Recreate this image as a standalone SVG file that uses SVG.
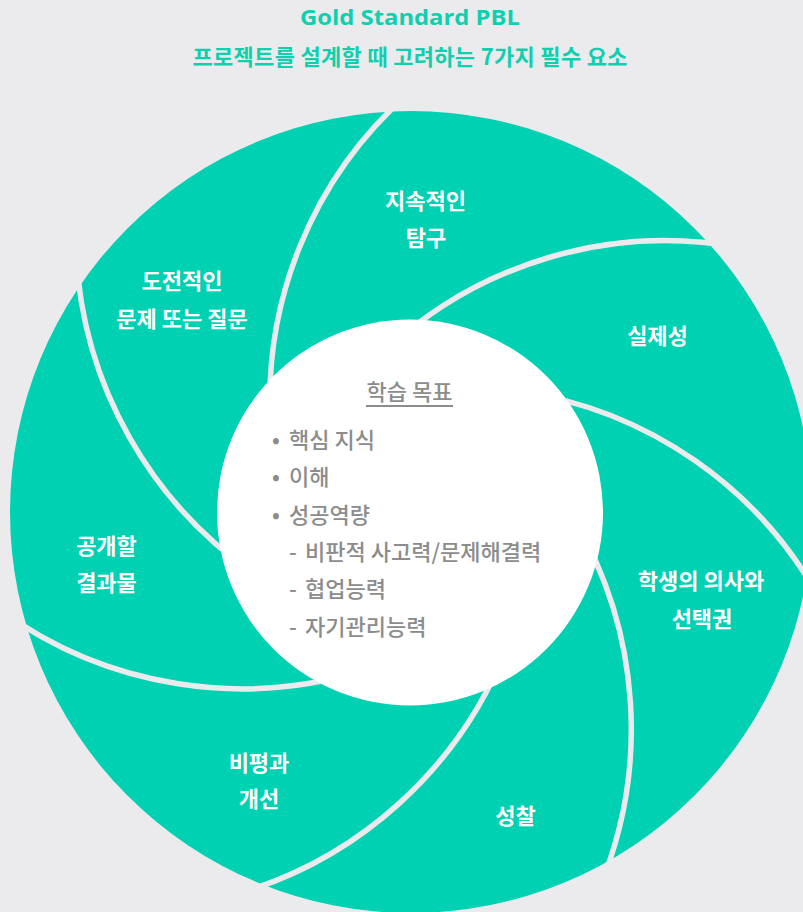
<svg xmlns="http://www.w3.org/2000/svg" width="803" height="912" viewBox="0 0 803 912">
  <style>
    .title { font-family: "Noto Sans CJK KR", "Noto Sans", sans-serif; font-weight: 700; fill: #0fcfae; text-anchor: middle; }
    .petal { font-family: "Noto Sans CJK KR", "Noto Sans", sans-serif; font-weight: 700; font-size: 22px; fill: #ffffff; text-anchor: middle; }
    .goal { font-family: "Noto Sans CJK KR", "Noto Sans", sans-serif; font-weight: 500; font-size: 22px; fill: #8c8c8c; }
    .sep { fill: none; stroke: #ebebed; stroke-width: 5.5; }
  </style>
  <rect width="803" height="912" fill="#ebebed"/>

  <g id="title">
    <text class="title" x="410" y="25" font-size="21.5" textLength="220" lengthAdjust="spacingAndGlyphs" style="font-family: 'Open Sans', 'Noto Sans', sans-serif;">Gold Standard PBL</text>
    <text class="title" x="410" y="65" font-size="22" textLength="435" lengthAdjust="spacing">프로젝트를 설계할 때 고려하는 7가지 필수 요소</text>
  </g>

  <circle id="disc" cx="411" cy="512" r="401" fill="#00d1b2"/>

  <g id="separators">
    <path class="sep" d="M 410.2 91.9 A 408 408 0 0 0 271.5 435.4"/>
    <path class="sep" d="M 739.3 247.5 A 410 410 0 0 0 382.4 353.7"/>
    <path class="sep" d="M 822.5 603.8 A 410 410 0 0 0 517.1 391.1"/>
    <path class="sep" d="M 597.7 891.8 A 412 412 0 0 0 573.5 518.5"/>
    <path class="sep" d="M 230.8 895.7 A 413 413 0 0 0 508.2 643.4"/>
    <path class="sep" d="M -0.8 609.5 A 412 412 0 0 0 368.5 668.9"/>
    <path class="sep" d="M 76.1 250.9 A 414 414 0 0 0 260.7 578.3"/>
  </g>

  <g id="petal-inquiry">
    <text class="petal" x="425.5" y="209">지속적인</text>
    <text class="petal" x="426" y="246">탐구</text>
  </g>
  <g id="petal-authenticity">
    <text class="petal" x="657.5" y="344">실제성</text>
  </g>
  <g id="petal-voice">
    <text class="petal" x="701" y="589">학생의 의사와</text>
    <text class="petal" x="702" y="627">선택권</text>
  </g>
  <g id="petal-reflection">
    <text class="petal" x="515.5" y="824">성찰</text>
  </g>
  <g id="petal-critique">
    <text class="petal" x="259" y="771">비평과</text>
    <text class="petal" x="259" y="807">개선</text>
  </g>
  <g id="petal-product">
    <text class="petal" x="106.5" y="554">공개할</text>
    <text class="petal" x="106.5" y="591">결과물</text>
  </g>
  <g id="petal-question">
    <text class="petal" x="182" y="289">도전적인</text>
    <text class="petal" x="182" y="327">문제 또는 질문</text>
  </g>

  <g id="learning-goals">
    <circle cx="410" cy="512.5" r="193" fill="#ffffff"/>
    <text class="goal" x="409.5" y="400" font-weight="700" text-anchor="middle">학습 목표</text>
    <rect x="366" y="405" width="87" height="2" fill="#8c8c8c"/>
    <text class="goal" y="448"><tspan x="272">•</tspan><tspan x="289">핵심 지식</tspan></text>
    <text class="goal" y="485"><tspan x="272">•</tspan><tspan x="289">이해</tspan></text>
    <text class="goal" y="523"><tspan x="272">•</tspan><tspan x="289">성공역량</tspan></text>
    <text class="goal" y="560"><tspan x="289">-</tspan><tspan x="305">비판적 사고력/문제해결력</tspan></text>
    <text class="goal" y="597"><tspan x="289">-</tspan><tspan x="305">협업능력</tspan></text>
    <text class="goal" y="635"><tspan x="289">-</tspan><tspan x="305">자기관리능력</tspan></text>
  </g>
</svg>
